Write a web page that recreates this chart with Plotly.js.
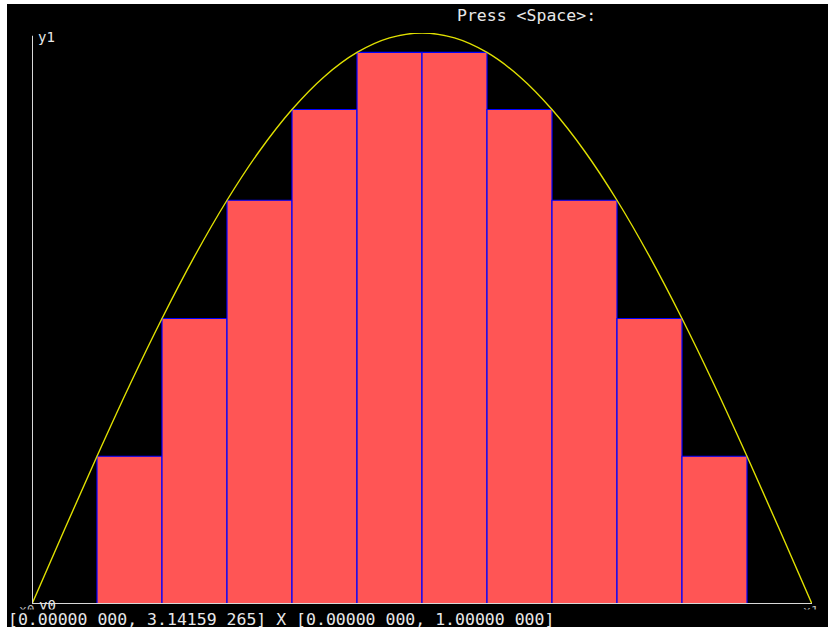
<!DOCTYPE html>
<html>
<head>
<meta charset="utf-8">
<script src="https://cdn.plot.ly/plotly-3.0.1.min.js"></script>
<style>
  html, body { margin: 0; padding: 0; background: #ffffff; }
  #chart { position: absolute; left: 7px; top: 4px; width: 821px; height: 623px; }
</style>
</head>
<body>
<div id="chart"></div>
<script>
// Bar (lower Riemann sum) data: bar centres and heights
const barCenters = [0.3927, 0.6545, 0.9163, 1.1781, 1.4399, 1.7017, 1.9635, 2.2253, 2.4871, 2.7489];
const barHeights = [0.2588, 0.5000, 0.7071, 0.8660, 0.9659, 0.9659, 0.8660, 0.7071, 0.5000, 0.2588];
const barWidth = 0.2618;

// Curve points
const curveX = [0, 0.1309, 0.2618, 0.3927, 0.5236, 0.6545, 0.7854, 0.9163, 1.0472, 1.1781, 1.3090, 1.4399, 1.5708,
                1.7017, 1.8326, 1.9635, 2.0944, 2.2253, 2.3562, 2.4871, 2.6180, 2.7489, 2.8798, 3.0107, 3.1416];
const curveY = [0, 0.1305, 0.2588, 0.3827, 0.5000, 0.6088, 0.7071, 0.7934, 0.8660, 0.9239, 0.9659, 0.9914, 1.0000,
                0.9914, 0.9659, 0.9239, 0.8660, 0.7934, 0.7071, 0.6088, 0.5000, 0.3827, 0.2588, 0.1305, 0];

const statusText = "[0.00000 000, 3.14159 265] X [0.00000 000, 1.00000 000]";
const promptText = "Press <Space>:";

const mono = "DejaVu Sans Mono, Liberation Mono, monospace";
const txtColor = "#e8e8e8";

const traces = [
  {
    type: "bar",
    x: barCenters,
    y: barHeights,
    width: barWidth,
    marker: { color: "#ff5555", line: { color: "#0000ff", width: 1.2 } },
    hoverinfo: "skip"
  },
  {
    type: "scatter",
    mode: "lines",
    x: curveX,
    y: curveY,
    line: { color: "#e0e000", width: 1.4, shape: "spline" },
    hoverinfo: "skip"
  }
];

const layout = {
  width: 821,
  height: 623,
  margin: { l: 25, r: 16, t: 29, b: 23, pad: 0 },
  paper_bgcolor: "#000000",
  plot_bgcolor: "#000000",
  showlegend: false,
  bargap: 0,
  xaxis: { range: [0, Math.PI], showgrid: false, zeroline: false, showticklabels: false, showline: false, ticks: "", fixedrange: true },
  yaxis: { range: [0, 1], showgrid: false, zeroline: false, showticklabels: false, showline: false, ticks: "", fixedrange: true },
  shapes: [
    { type: "line", xref: "x", yref: "y", x0: -0.06, x1: 3.198, y0: 0, y1: 0, line: { color: "#d8d8d8", width: 2 }, layer: "above" },
    { type: "line", xref: "x", yref: "y", x0: 0, x1: 0, y0: 0, y1: 0.995, line: { color: "#d8d8d8", width: 2 }, layer: "above" }
  ],
  annotations: [
    { text: "y1", xref: "paper", yref: "paper", x: 0.005, y: 0.993, xanchor: "left", yanchor: "middle", showarrow: false, font: { family: mono, size: 14, color: txtColor } },
    { text: "x0", xref: "paper", yref: "paper", x: -0.019, y: -0.010, xanchor: "left", yanchor: "middle", showarrow: false, font: { family: mono, size: 13, color: "#bbbbbb" } },
    { text: "y0", xref: "paper", yref: "paper", x: 0.006, y: -0.001, xanchor: "left", yanchor: "middle", showarrow: false, font: { family: mono, size: 14, color: txtColor } },
    { text: "x1", xref: "paper", yref: "paper", x: 0.986, y: -0.012, xanchor: "left", yanchor: "middle", showarrow: false, font: { family: mono, size: 13, color: "#bbbbbb" } },
    { text: statusText, xref: "paper", yref: "paper", x: -0.0321, y: -0.0265, xanchor: "left", yanchor: "middle", showarrow: false,
      align: "left", width: 815, bgcolor: "#000000", borderpad: 0,
      font: { family: mono, size: 16.5, color: txtColor } },
    { text: promptText, xref: "paper", yref: "paper", x: 0.5423, y: 1.0315, xanchor: "left", yanchor: "middle", showarrow: false,
      font: { family: mono, size: 16.5, color: txtColor } }
  ]
};

Plotly.newPlot("chart", traces, layout, { displayModeBar: false, staticPlot: true });
</script>
</body>
</html>
